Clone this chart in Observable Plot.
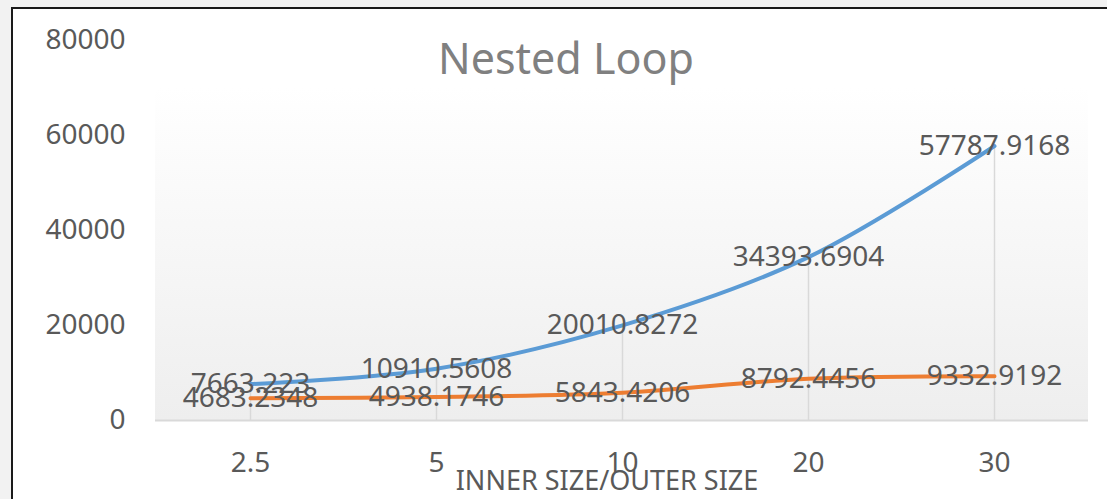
<!DOCTYPE html>
<html>
<head>
<meta charset="utf-8">
<script src="https://cdn.jsdelivr.net/npm/d3@7"></script>
<script src="https://cdn.jsdelivr.net/npm/@observablehq/plot@0.6"></script>
<style>
  html, body { margin: 0; padding: 0; background: #f2f2f2; width: 1107px; height: 499px; overflow: hidden; }
  #frame { position: absolute; left: 11px; top: 7px; width: 1200px; height: 600px; background: #ffffff;
           border-left: 2px solid #1a1a1a; border-top: 2px solid #1a1a1a; }
  #chart { position: absolute; left: 0; top: 0; }
</style>
</head>
<body>
<div id="frame"></div>
<div id="chart"></div>
<script>
const title = "Nested Loop";
const xTitle = "INNER SIZE/OUTER SIZE";
const categories = ["2.5", "5", "10", "20", "30"];
const seriesBlue = [7663.223, 10910.5608, 20010.8272, 34393.6904, 57787.9168];
const seriesOrange = [4683.2348, 4938.1746, 5843.4206, 8792.4456, 9332.9192];
const yTicks = [0, 20000, 40000, 60000, 80000];

const rows = categories.map((c, i) => ({cat: c, blue: seriesBlue[i], orange: seriesOrange[i]}));

// background gradient of the plot area (decoration, built from the scales)
function plotBackground(index, scales, values, dims) {
  const ns = "http://www.w3.org/2000/svg";
  const g = document.createElementNS(ns, "g");
  const defs = document.createElementNS(ns, "defs");
  defs.innerHTML = '<linearGradient id="bgGrad" x1="0" y1="0" x2="0" y2="1">' +
    '<stop offset="0" stop-color="#ffffff"/><stop offset="1" stop-color="#eeeeee"/></linearGradient>';
  g.appendChild(defs);
  const r = document.createElementNS(ns, "rect");
  const top = scales.y(70000);
  const bottom = scales.y(0);
  r.setAttribute("x", dims.marginLeft);
  r.setAttribute("y", top);
  r.setAttribute("width", dims.width - dims.marginLeft - dims.marginRight);
  r.setAttribute("height", bottom - top);
  r.setAttribute("fill", "url(#bgGrad)");
  g.appendChild(r);
  return g;
}

const textColor = "#595959";

const chart = Plot.plot({
  width: 1107,
  height: 499,
  marginLeft: 155,
  marginRight: 19,
  marginTop: 40,
  marginBottom: 79,
  style: {background: "transparent", fontFamily: "'Noto Sans', sans-serif", fontSize: "28px", overflow: "visible"},
  x: {type: "point", domain: categories, padding: 0.5, label: null},
  y: {domain: [0, 80000], label: null},
  marks: [
    plotBackground,
    Plot.ruleX(rows, {x: "cat", y1: 0, y2: d => Math.max(d.blue, d.orange), stroke: "#d9d9d9", strokeWidth: 1.5}),
    Plot.ruleY([0], {stroke: "#d9d9d9", strokeWidth: 2}),
    Plot.line(rows, {x: "cat", y: "blue", stroke: "#5B9BD5", strokeWidth: 4, curve: "catmull-rom"}),
    Plot.line(rows, {x: "cat", y: "orange", stroke: "#ED7D31", strokeWidth: 4, curve: "catmull-rom"}),
    Plot.text(rows, {x: "cat", y: "blue", text: d => String(d.blue), fill: textColor, fontSize: 28}),
    Plot.text(rows, {x: "cat", y: "orange", text: d => String(d.orange), fill: textColor, fontSize: 28}),
    Plot.axisY({ticks: yTicks, tickFormat: d => String(d), tickSize: 0, tickPadding: 30, fill: textColor, fontSize: 28, label: null}),
    Plot.axisX({tickSize: 0, tickPadding: 32, fill: textColor, fontSize: 28, label: null}),
    Plot.text([xTitle], {frameAnchor: "bottom", lineAnchor: "top", dy: 50, dx: -15, fill: textColor, fontSize: 27}),
    Plot.text([title], {frameAnchor: "top", lineAnchor: "top", dy: 3, dx: -56, fill: "#808080", fontSize: 43})
  ]
});
document.getElementById("chart").appendChild(chart);
</script>
</body>
</html>
